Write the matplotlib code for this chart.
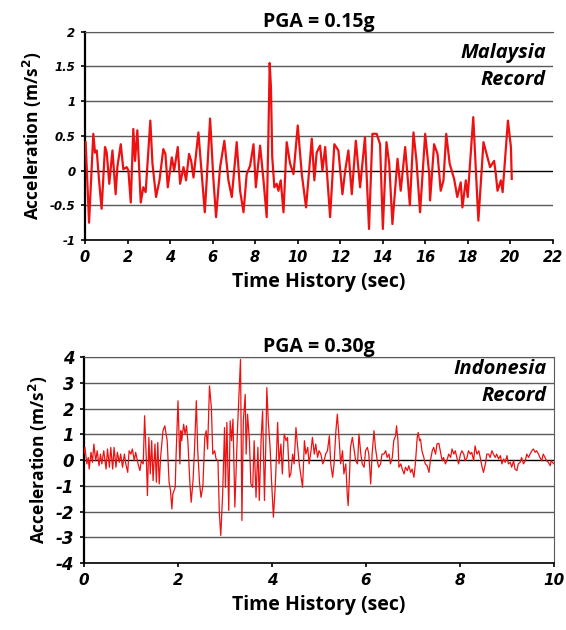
import matplotlib
matplotlib.use("Agg")
import matplotlib.pyplot as plt

# ---------- Malaysia record (PGA = 0.15g) ----------
t_my = [0.03, 0.19, 0.39, 0.47, 0.55, 0.66, 0.78, 0.94, 1.02, 1.14, 1.29, 1.44, 1.52, 1.68,
        1.80, 1.96, 2.04, 2.15, 2.27, 2.35, 2.46, 2.62, 2.74, 2.85, 3.07, 3.17, 3.34, 3.50,
        3.68, 3.78, 3.89, 4.08, 4.19, 4.36, 4.47, 4.63, 4.75, 4.89, 4.99, 5.10, 5.33, 5.63,
        5.72, 5.88, 6.03, 6.16, 6.35, 6.55, 6.74, 6.90, 7.13, 7.29, 7.45, 7.60, 7.76, 7.92,
        8.03, 8.23, 8.39, 8.54, 8.62, 8.68, 8.74, 8.80, 8.90, 9.01, 9.09, 9.20, 9.33, 9.48,
        9.64, 9.80, 10.00, 10.19, 10.39, 10.66, 10.78, 10.89, 11.05, 11.16, 11.29, 11.52,
        11.72, 11.91, 12.10, 12.23, 12.38, 12.54, 12.73, 12.93, 13.16, 13.35, 13.51, 13.71,
        13.87, 14.00, 14.17, 14.30, 14.45, 14.69, 14.84, 15.05, 15.27, 15.44, 15.58, 15.75,
        15.99, 16.18, 16.22, 16.41, 16.57, 16.72, 16.85, 16.98, 17.14, 17.35, 17.50, 17.66,
        17.74, 17.90, 17.99, 18.25, 18.49, 18.73, 18.92, 19.04, 19.23, 19.31, 19.39, 19.55,
        19.63, 19.88, 20.02, 20.06]
a_my = [0.41, -0.75, 0.53, 0.26, 0.29, -0.14, -0.55, 0.34, 0.26, -0.19, 0.29, -0.34, 0.05, 0.38,
        0.02, 0.05, 0.00, -0.46, 0.60, 0.14, 0.58, -0.46, -0.24, -0.31, 0.72, 0.10, -0.38, -0.14,
        0.31, 0.24, -0.24, 0.19, 0.00, 0.34, -0.19, 0.05, -0.14, 0.24, 0.14, -0.10, 0.55, -0.60,
        -0.14, 0.75, -0.10, -0.67, 0.05, 0.43, -0.14, -0.38, 0.41, -0.29, -0.60, -0.05, 0.07, 0.38,
        -0.24, 0.36, -0.14, -0.67, 0.50, 1.55, 1.20, 0.20, -0.24, -0.19, -0.29, -0.14, -0.60, 0.41,
        0.10, -0.05, 0.65, -0.05, -0.53, 0.46, -0.14, 0.26, 0.36, 0.00, 0.34, -0.67,
        0.38, 0.29, -0.34, 0.00, 0.29, -0.34, 0.43, -0.24, 0.48, -0.84, 0.53, 0.53,
        0.38, -0.84, 0.41, 0.10, -0.77, 0.17, -0.29, 0.34, -0.50, 0.55, 0.14, -0.60,
        0.53, -0.05, -0.43, 0.38, 0.24, -0.29, -0.14, 0.53, 0.10, -0.12, -0.38, -0.17,
        -0.53, -0.14, -0.38, 0.77, -0.72, 0.41, 0.19, 0.05, 0.14, -0.05, -0.29, -0.14,
        -0.31, 0.72, 0.34, -0.12]

# ---------- Indonesia record (PGA = 0.30g) ----------
t_id = [0.00, 0.02, 0.06, 0.09, 0.11, 0.15, 0.18, 0.21, 0.25, 0.28, 0.32, 0.35, 0.38, 0.42,
        0.47, 0.50, 0.54, 0.57, 0.61, 0.64, 0.68, 0.71, 0.75, 0.78, 0.82, 0.86, 0.89, 0.93,
        0.96, 1.00, 1.03, 1.07, 1.10, 1.15, 1.19, 1.22, 1.26, 1.29, 1.33, 1.35, 1.38, 1.41,
        1.44, 1.47, 1.51, 1.54, 1.57, 1.60, 1.63, 1.68, 1.72, 1.77, 1.81, 1.84, 1.87, 1.89,
        1.94, 1.96, 2.00, 2.04, 2.06, 2.08, 2.12, 2.15, 2.18, 2.21, 2.25, 2.28, 2.32, 2.35,
        2.39, 2.42, 2.46, 2.49, 2.53, 2.57, 2.60, 2.63, 2.67, 2.71, 2.74, 2.78, 2.81, 2.85,
        2.88, 2.91, 2.95, 2.99, 3.01, 3.04, 3.08, 3.11, 3.14, 3.17, 3.21, 3.27, 3.31, 3.33,
        3.36, 3.39, 3.43, 3.45, 3.48, 3.52, 3.55, 3.59, 3.62, 3.66, 3.70, 3.73, 3.77, 3.80,
        3.84, 3.87, 3.89, 3.92, 3.96, 3.99, 4.03, 4.06, 4.08, 4.12, 4.15, 4.19, 4.22, 4.26,
        4.30, 4.33, 4.37, 4.40, 4.44, 4.47, 4.51, 4.54, 4.58, 4.61, 4.65, 4.69, 4.72, 4.76,
        4.79, 4.83, 4.86, 4.90, 4.93, 4.97, 5.00, 5.04, 5.08, 5.11, 5.14, 5.18, 5.22, 5.25,
        5.29, 5.32, 5.36, 5.39, 5.43, 5.46, 5.50, 5.53, 5.57, 5.60, 5.62, 5.65, 5.67, 5.71,
        5.74, 5.78, 5.82, 5.85, 5.89, 5.92, 5.96, 5.99, 6.03, 6.06, 6.10, 6.13, 6.17, 6.20,
        6.24, 6.27, 6.31, 6.34, 6.38, 6.42, 6.45, 6.49, 6.52, 6.56, 6.59, 6.63, 6.65, 6.68,
        6.70, 6.74, 6.77, 6.81, 6.84, 6.88, 6.91, 6.95, 6.98, 7.02, 7.05, 7.09, 7.11, 7.14,
        7.16, 7.19, 7.23, 7.26, 7.30, 7.34, 7.37, 7.41, 7.44, 7.48, 7.51, 7.55, 7.58, 7.62,
        7.65, 7.69, 7.72, 7.76, 7.80, 7.83, 7.87, 7.90, 7.94, 7.97, 8.01, 8.04, 8.08, 8.11,
        8.15, 8.18, 8.22, 8.25, 8.29, 8.32, 8.36, 8.40, 8.43, 8.47, 8.50, 8.54, 8.57, 8.61,
        8.64, 8.68, 8.71, 8.75, 8.78, 8.82, 8.86, 8.89, 8.93, 8.96, 9.00, 9.03, 9.07, 9.10,
        9.14, 9.17, 9.21, 9.24, 9.28, 9.31, 9.35, 9.39, 9.42, 9.46, 9.49, 9.53, 9.56, 9.60,
        9.63, 9.67, 9.70, 9.74, 9.77, 9.81, 9.84, 9.88, 9.92, 9.94, 10.00]
a_id = [0.23, 0.49, -0.15, 0.10, -0.35, 0.30, -0.09, 0.62, -0.03, 0.36, -0.22, 0.23, -0.15, 0.36,
        -0.35, 0.43, -0.28, 0.49, -0.35, 0.49, -0.28, 0.30, -0.09, 0.23, -0.28, 0.23, -0.15, -0.48,
        0.36, 0.23, 0.43, -0.03, 0.30, -0.15, -0.41, -0.03, -0.15, 1.72, -0.15, -1.38, 0.88, -0.54,
        0.75, -0.80, 0.62, -0.86, 0.68, -0.93, 0.10, 1.14, 1.33, 0.75, -0.86, -1.19, -1.90, -1.32,
        -1.06, 0.23, 2.30, -0.15, 1.14, 0.75, 1.39, 1.01, 1.33, 0.75, -0.80, -1.64, -0.80, 0.36,
        2.30, 0.36, -0.93, -1.45, -0.99, 0.88, 1.14, 0.43, 2.88, 2.04, 0.23, 0.36, 0.04, -0.03,
        -2.09, -2.93, -1.32, 1.26, -1.06, 1.46, -1.96, 1.52, 0.75, 1.59, -1.83, 1.39, 3.07, 3.91,
        -2.35, 1.52, 2.55, 0.23, 1.78, 0.75, -0.93, -1.06, 0.75, -1.45, 0.49, -1.57, 0.88, 1.91,
        -1.57, 0.75, 2.81, 1.52, 0.49, -0.80, -2.22, -1.32, -0.54, 1.46, -0.15, 0.62, -0.54, 1.01,
        0.75, 0.88, -0.67, -0.54, 0.23, -0.15, 1.26, 0.62, -0.15, -0.54, -1.06, 0.75, 0.23, 0.49,
        -0.15, 0.36, 0.88, 0.23, 0.62, 0.10, 0.36, 0.23, -0.15, -0.03, 0.23, 0.36, 0.94, -0.15,
        -0.67, -0.15, 1.14, 1.78, 0.75, -0.15, 0.36, -0.54, -0.15, -1.32, -1.77, -0.54, 0.49, 0.88,
        0.49, -0.03, -0.15, 1.01, 0.23, -0.15, -0.28, 0.36, 0.49, 0.23, -0.93, 0.23, 1.14, 0.49,
        -0.03, -0.28, -0.15, 0.23, 0.23, 0.36, 0.10, 0.23, -0.15, 0.10, 0.75, 0.94, 1.33, 0.75,
        -0.28, -0.15, -0.35, -0.54, -0.28, -0.41, -0.22, -0.48, -0.35, -0.67, -0.15, 0.88, 1.07, 0.75,
        0.81, 0.36, 0.10, -0.15, -0.22, -0.48, -0.03, 0.36, 0.49, 0.23, 0.62, 0.65, 0.36, -0.03,
        0.10, -0.15, -0.03, 0.23, 0.10, 0.43, 0.23, 0.36, 0.04, -0.15, 0.23, 0.36, 0.23, -0.03,
        0.10, 0.36, 0.23, 0.30, -0.03, 0.55, 0.23, 0.36, 0.10, -0.28, -0.48, -0.15, 0.23, 0.23,
        0.10, 0.36, 0.23, 0.10, 0.23, 0.04, 0.17, -0.15, 0.04, -0.09, 0.17, -0.15, -0.09, -0.28,
        -0.03, -0.35, -0.41, -0.15, -0.09, 0.10, -0.15, -0.03, 0.23, 0.10, 0.23, 0.36, 0.43, 0.30,
        0.36, 0.23, 0.10, -0.03, 0.23, 0.10, -0.03, -0.09, -0.22, -0.03, -0.15]

my_yticks = [-1, -0.5, 0, 0.5, 1, 1.5, 2]
my_xticks = list(range(0, 23, 2))
id_yticks = list(range(-4, 5))
id_xticks = list(range(0, 11, 2))

RED = "#ee1111"
GRID = "#5a5a5a"
LBL = "Open Sans"

fig = plt.figure(figsize=(5.66, 6.30), dpi=100)
ax1 = fig.add_axes([0.1502, 0.619, 0.8269, 0.3306])
ax2 = fig.add_axes([0.1484, 0.1063, 0.8304, 0.327])


def style(ax, xt, yt, xlim, ylim, ysize, xsize, right_frame):
    ax.set_xlim(*xlim)
    ax.set_ylim(*ylim)
    ax.set_xticks(xt)
    ax.set_yticks(yt)
    ax.set_yticklabels([f"{v:g}" for v in yt])
    for v in yt:
        ax.axhline(v, color="black" if v == 0 else GRID, lw=1.0, zorder=1)
    ax.spines["left"].set_linewidth(1.6)
    ax.spines["bottom"].set_linewidth(1.2)
    ax.spines["top"].set_color(GRID)
    ax.spines["right"].set_color(GRID)
    ax.spines["right"].set_visible(right_frame)
    ax.tick_params(axis="both", direction="out", length=3, width=1.2, pad=4)
    for lab in ax.get_yticklabels():
        lab.set_fontstyle("italic")
        lab.set_fontweight("bold")
        lab.set_fontsize(ysize)
    for lab in ax.get_xticklabels():
        lab.set_fontstyle("italic")
        lab.set_fontweight("bold")
        lab.set_fontsize(xsize)
    ax.set_xlabel("Time History (sec)", family=LBL, fontweight="bold", fontsize=14, labelpad=5)
    ax.set_ylabel("Acceleration (m/s$^\\mathbf{2}$)", family=LBL, fontweight="bold", fontsize=12.5, labelpad=4)


# ---------- top panel ----------
ax1.plot(t_my, a_my, color=RED, lw=1.6, zorder=3)
style(ax1, my_xticks, my_yticks, (0, 22), (-1, 2), 8.5, 10.5, False)
ax1.set_title("PGA = 0.15g", family=LBL, fontweight="bold", fontsize=14, pad=3)
ax1.text(0.985, 0.898, "Malaysia", transform=ax1.transAxes, ha="right", va="center",
         family=LBL, fontweight="bold", fontstyle="italic", fontsize=14.5)
ax1.text(0.985, 0.768, "Record", transform=ax1.transAxes, ha="right", va="center",
         family=LBL, fontweight="bold", fontstyle="italic", fontsize=14.5)

# ---------- bottom panel ----------
ax2.plot(t_id, a_id, color=RED, lw=0.9, zorder=3)
style(ax2, id_xticks, id_yticks, (0, 10), (-4, 4), 12, 11, True)
ax2.set_title("PGA = 0.30g", family=LBL, fontweight="bold", fontsize=14, pad=3)
ax2.text(0.985, 0.94, "Indonesia", transform=ax2.transAxes, ha="right", va="center",
         family=LBL, fontweight="bold", fontstyle="italic", fontsize=14.5)
ax2.text(0.985, 0.81, "Record", transform=ax2.transAxes, ha="right", va="center",
         family=LBL, fontweight="bold", fontstyle="italic", fontsize=14.5)

fig.savefig("out.png", dpi=100)
